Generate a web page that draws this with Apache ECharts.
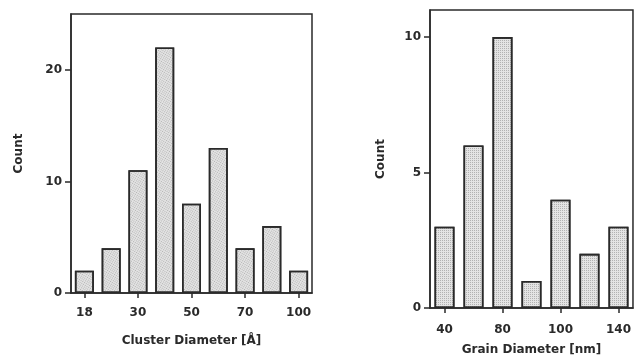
<!DOCTYPE html>
<html>
<head>
<meta charset="utf-8">
<script src="https://cdn.jsdelivr.net/npm/echarts@6/dist/echarts.min.js"></script>
<style>
  html, body { margin: 0; padding: 0; background: #fff; }
  #chart { width: 634px; height: 362px; }
</style>
</head>
<body>
<div id="chart"></div>
<script>
// cluster histogram (left)
const clusterLabels = ['18', '', '30', '', '50', '', '70', '', '100']
const clusterCounts = [2, 4, 11, 22, 8, 13, 4, 6, 2]
const clusterTicks = [0, 10, 20]

// grain histogram (right)
const grainLabels = ['40', '', '80', '', '100', '', '140']
const grainCounts = [3, 6, 10, 1, 4, 2, 3]
const grainTicks = [0, 5, 10]

const INK = '#2a2a2a'
const FONT = 'DejaVu Sans'

const textStyle = { color: INK, fontFamily: FONT, fontWeight: 'bold', fontSize: 12 }

const makeXAxis = (gridIndex, labels, name, margin, nameGap) => ({
    type: 'category',
    gridIndex,
    data: labels.map((l, i) => 'bin' + i),
    boundaryGap: true,
    name,
    nameLocation: 'middle',
    nameGap,
    nameTextStyle: textStyle,
    axisLine: { lineStyle: { color: INK, width: 1.5 } },
    axisTick: { show: true, alignWithLabel: true, interval: 1, length: 5, lineStyle: { color: INK, width: 1.5 } },
    axisLabel: { interval: 1, margin, formatter: (v, i) => labels[i], ...textStyle },
})

const makeYAxis = (gridIndex, max, ticks, nameGap) => ({
    type: 'value',
    gridIndex,
    min: 0,
    max,
    name: 'Count',
    nameLocation: 'middle',
    nameGap,
    nameTextStyle: textStyle,
    splitLine: { show: false },
    axisLine: { show: true, lineStyle: { color: INK, width: 1.5 } },
    axisTick: { show: true, length: 6, customValues: ticks, lineStyle: { color: INK, width: 1.5 } },
    axisLabel: { customValues: ticks, margin: 9, ...textStyle },
})

// stippled fill like the old mac pattern
const stipple = {
    symbol: 'rect',
    symbolSize: 1,
    dashArrayX: [1, 1],
    dashArrayY: [1, 1],
    color: 'rgba(0,0,0,0.22)',
}

const makeSeries = (idx, data, barWidth) => ({
    type: 'bar',
    xAxisIndex: idx,
    yAxisIndex: idx,
    data,
    barWidth,
    itemStyle: { color: '#e4e4e4', borderColor: INK, borderWidth: 1.6, decal: stipple },
})

const chart = echarts.init(document.getElementById('chart'), null, { renderer: 'canvas' })
chart.setOption({
    animation: false,
    backgroundColor: '#fff',
    aria: { enabled: true, decal: { show: true } },
    grid: [
        { left: 71, top: 14, width: 241, height: 279, show: true, borderColor: INK, borderWidth: 1.5, backgroundColor: 'transparent' },
        { left: 430, top: 10, width: 203, height: 298, show: true, borderColor: INK, borderWidth: 1.5, backgroundColor: 'transparent' },
    ],
    xAxis: [
        makeXAxis(0, clusterLabels, 'Cluster Diameter [Å]', 14, 42),
        makeXAxis(1, grainLabels, 'Grain Diameter [nm]', 16, 36),
    ],
    yAxis: [
        makeYAxis(0, 25, clusterTicks, 46),
        makeYAxis(1, 11, grainTicks, 43),
    ],
    series: [
        makeSeries(0, clusterCounts, 19),
        makeSeries(1, grainCounts, 20),
    ],
})
</script>
</body>
</html>
